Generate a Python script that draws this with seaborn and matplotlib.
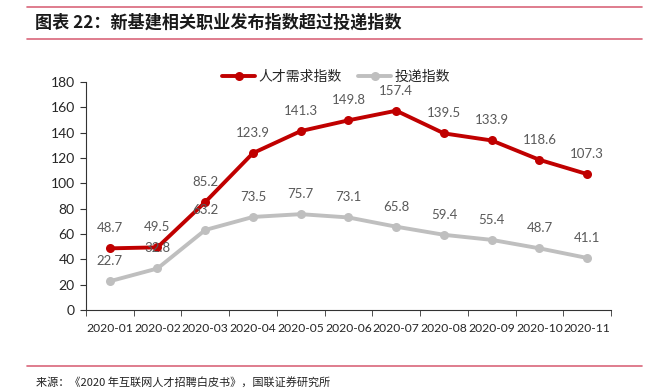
import pandas as pd
import seaborn as sns
import matplotlib.pyplot as plt
from matplotlib.lines import Line2D

months = ["2020-01", "2020-02", "2020-03", "2020-04", "2020-05", "2020-06",
          "2020-07", "2020-08", "2020-09", "2020-10", "2020-11"]
demand = [48.7, 49.5, 85.2, 123.9, 141.3, 149.8, 157.4, 139.5, 133.9, 118.6, 107.3]
delivery = [22.7, 32.8, 63.2, 73.5, 75.7, 73.1, 65.8, 59.4, 55.4, 48.7, 41.1]
series_names = ["人才需求指数", "投递指数"]

df = pd.DataFrame({"指数": demand + delivery,
                   "系列": [series_names[0]] * len(months) + [series_names[1]] * len(months)})
df["x"] = list(range(len(months))) * 2

sns.set_style("white")
plt.rcParams["font.family"] = ["Noto Sans CJK SC", "DejaVu Sans"]

colors = {series_names[0]: "#C00000", series_names[1]: "#BFBFBF"}
num_font = ["Lato", "DejaVu Sans"]

fig = plt.figure(figsize=(6.55, 3.89), dpi=100)
ax = fig.add_axes([0.131, 0.203, 0.802, 0.586])
sns.lineplot(data=df, x="x", y="指数", hue="系列", palette=colors, marker="o",
             markersize=6.5, markeredgewidth=0, linewidth=2.8, ax=ax, legend=False)

# data labels above each point
for vals in (demand, delivery):
    for i, v in enumerate(vals):
        ax.annotate(f"{v:.1f}", (i, v), xytext=(0, 14.5), textcoords="offset points",
                    ha="center", va="center", fontsize=9.5, color="#595959",
                    family=num_font)

ax.set_xlim(-0.5, len(months) - 0.5)
ax.set_ylim(0, 180)
ax.set_yticks(range(0, 181, 20))
ax.set_yticklabels([str(v) for v in range(0, 181, 20)], family=num_font, fontsize=10)
ax.set_xticks(range(len(months)))
ax.set_xticklabels(months, fontsize=8.7, family=num_font)
ax.set_xticks([i - 0.5 for i in range(len(months) + 1)], minor=True)
ax.tick_params(axis="y", length=4, direction="out", color="#333333", left=True, pad=4)
ax.tick_params(axis="x", which="major", length=0, pad=9)
ax.tick_params(axis="x", which="minor", length=4, direction="out", color="#333333", bottom=True)
ax.set_xlabel("")
ax.set_ylabel("")
for s in ["top", "right"]:
    ax.spines[s].set_visible(False)
ax.spines["left"].set_color("#333333")
ax.spines["bottom"].set_color("#333333")

handles = [Line2D([], [], color=colors[n], lw=2.8, marker="o", markersize=6.5, markeredgewidth=0)
           for n in series_names]
ax.legend(handles, series_names, loc="center", bbox_to_anchor=(0.476, 1.022),
          ncol=2, frameon=False, fontsize=10, handlelength=2.4, columnspacing=1.2,
          handletextpad=0.2)

line_c = "#D9667A"
fig.add_artist(Line2D([0.041, 0.98], [0.982, 0.982], color=line_c, lw=1.2))
fig.add_artist(Line2D([0.041, 0.98], [0.900, 0.900], color=line_c, lw=1.2))
fig.add_artist(Line2D([0.041, 0.98], [0.059, 0.059], color=line_c, lw=1.2))
fig.text(0.054, 0.941, "图表 22：新基建相关职业发布指数超过投递指数", fontsize=12.3,
         fontweight="bold", style="italic", va="center", color="#1a1a1a")
fig.text(0.055, 0.018, "来源：《2020 年互联网人才招聘白皮书》，国联证券研究所", fontsize=8,
         va="center", color="#222222")

fig.savefig("out.png", dpi=100)
